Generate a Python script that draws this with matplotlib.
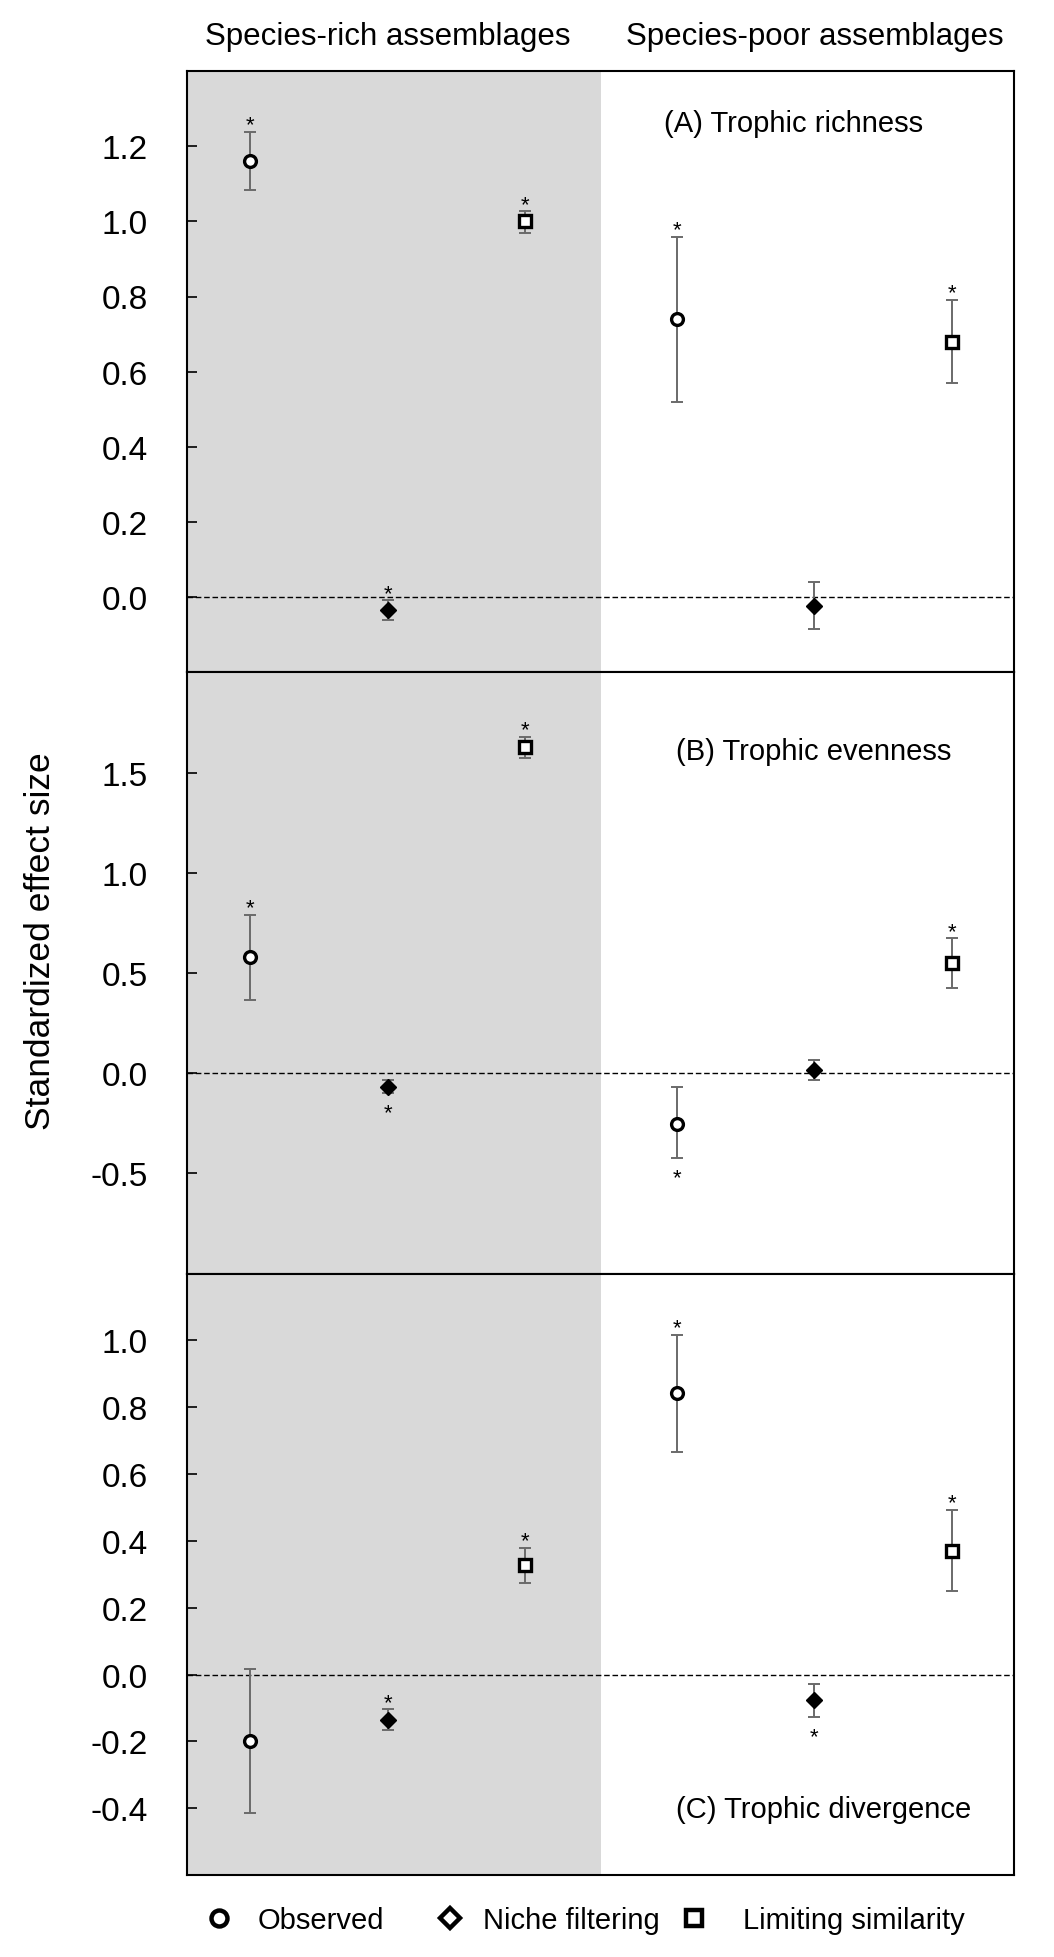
import matplotlib
matplotlib.use('Agg')
import matplotlib.pyplot as plt
from matplotlib.lines import Line2D

plt.rcParams['font.family'] = ['Liberation Sans', 'DejaVu Sans']

# positions: 3 species-rich then 3 species-poor
x_pos = [1, 2, 3, 4.1, 5.1, 6.1]
kinds = ['Observed', 'Niche filtering', 'Limiting similarity',
         'Observed', 'Niche filtering', 'Limiting similarity']
group_labels = ['Species-rich assemblages', 'Species-poor assemblages']
group_centers = [2, 5.1]

# (A) trophic richness
richness_mean = [1.16, -0.035, 1.00, 0.74, -0.023, 0.68]
richness_lo = [1.083, -0.06, 0.969, 0.519, -0.084, 0.57]
richness_hi = [1.238, -0.008, 1.027, 0.959, 0.04, 0.792]
richness_sig = ['up', 'up', 'up', 'up', '', 'up']

# (B) trophic evenness
evenness_mean = [0.58, -0.069, 1.627, -0.251, 0.016, 0.55]
evenness_lo = [0.366, -0.10, 1.575, -0.424, -0.036, 0.427]
evenness_hi = [0.79, -0.035, 1.678, -0.069, 0.067, 0.673]
evenness_sig = ['up', 'down', 'up', 'down', '', 'up']

# (C) trophic divergence
divergence_mean = [-0.198, -0.136, 0.327, 0.842, -0.077, 0.371]
divergence_lo = [-0.414, -0.167, 0.274, 0.666, -0.127, 0.251]
divergence_hi = [0.017, -0.104, 0.379, 1.017, -0.027, 0.493]
divergence_sig = ['', 'up', 'up', 'up', 'down', 'up']

panel_titles = ['(A) Trophic richness', '(B) Trophic evenness', '(C) Trophic divergence']
ylims = [(-0.2, 1.4), (-1.0, 2.0), (-0.6, 1.2)]
yticks = [[0.0, 0.2, 0.4, 0.6, 0.8, 1.0, 1.2],
          [-0.5, 0.0, 0.5, 1.0, 1.5],
          [-0.4, -0.2, 0.0, 0.2, 0.4, 0.6, 0.8, 1.0]]
title_pos = [(0.733, 0.914), (0.758, 0.87), (0.77, 0.11)]

marker_style = {
    'Observed': dict(marker='o', ms=8.5, mfc='white', mec='black', mew=2.4),
    'Niche filtering': dict(marker='D', ms=8.5, mfc='black', mec='black', mew=1),
    'Limiting similarity': dict(marker='s', ms=8.5, mfc='white', mec='black', mew=2.4),
}

panels = [
    (richness_mean, richness_lo, richness_hi, richness_sig),
    (evenness_mean, evenness_lo, evenness_hi, evenness_sig),
    (divergence_mean, divergence_lo, divergence_hi, divergence_sig),
]

fig = plt.figure(figsize=(10.54, 19.58), dpi=100)
gs = fig.add_gridspec(3, 1, left=0.1774, right=0.962, top=1 - 72 / 1958,
                      bottom=1 - 1876 / 1958, hspace=0)

for i, (mean, lo, hi, sig) in enumerate(panels):
    ax = fig.add_subplot(gs[i])
    ax.set_xlim(0.54, 6.55)
    ax.set_ylim(*ylims[i])
    ax.axvspan(0.54, 3.55, color='#d9d9d9', lw=0, zorder=0)
    ax.axhline(0, color='black', lw=1, ls=(0, (4, 2)), zorder=1)

    for j in range(len(x_pos)):
        err = [[mean[j] - lo[j]], [hi[j] - mean[j]]]
        ax.errorbar([x_pos[j]], [mean[j]], yerr=err, fmt='none', ecolor='#6a6a6a',
                    elinewidth=1.4, capsize=4.5, capthick=1.4, zorder=2)
        ax.plot([x_pos[j]], [mean[j]], ls='none', zorder=3, **marker_style[kinds[j]])
        if sig[j] == 'up':
            ax.annotate('*', xy=(x_pos[j], hi[j]), xytext=(0, 1), textcoords='offset points',
                        ha='center', va='baseline', fontsize=16)
        elif sig[j] == 'down':
            ax.annotate('*', xy=(x_pos[j], lo[j]), xytext=(0, -18), textcoords='offset points',
                        ha='center', va='baseline', fontsize=16)

    ax.set_yticks(yticks[i])
    ax.set_yticklabels(['%.1f' % t for t in yticks[i]])
    ax.tick_params(axis='y', direction='in', length=7, width=1.2, pad=28, labelsize=24)
    ax.set_xticks([])
    for s in ax.spines.values():
        s.set_linewidth(1.5)
    ax.text(title_pos[i][0], title_pos[i][1], panel_titles[i], transform=ax.transAxes,
            ha='center', va='center', fontsize=21)
    if i == 0:
        for gx, gl in zip(group_centers, group_labels):
            ax.text(gx, 1.058, gl, transform=ax.get_xaxis_transform(),
                    ha='center', va='center', fontsize=22.5)

fig.text(0.038, 1 - 941 / 1958, 'Standardized effect size', rotation=90,
         ha='center', va='center', fontsize=25.5)

# legend, one entry per legend box to match the uneven spacing
legend_items = [
    ('Observed', 'o', 204 / 1054, 0.85),
    ('Niche filtering', 'D', 435 / 1054, 0.65),
    ('Limiting similarity', 's', 679 / 1054, 1.2),
]
for label, mk, lx, pad in legend_items:
    h = Line2D([], [], ls='none', marker=mk, ms=11.5 if mk != 'D' else 10.5,
               mfc='white', mec='black', mew=3.2)
    fig.legend(handles=[h], labels=[label], loc='center left',
               bbox_to_anchor=(lx, 1 - 1921 / 1958), frameon=False, fontsize=21,
               handlelength=1.0, handletextpad=pad, borderpad=0, borderaxespad=0)

fig.savefig('out.png', dpi=100)
